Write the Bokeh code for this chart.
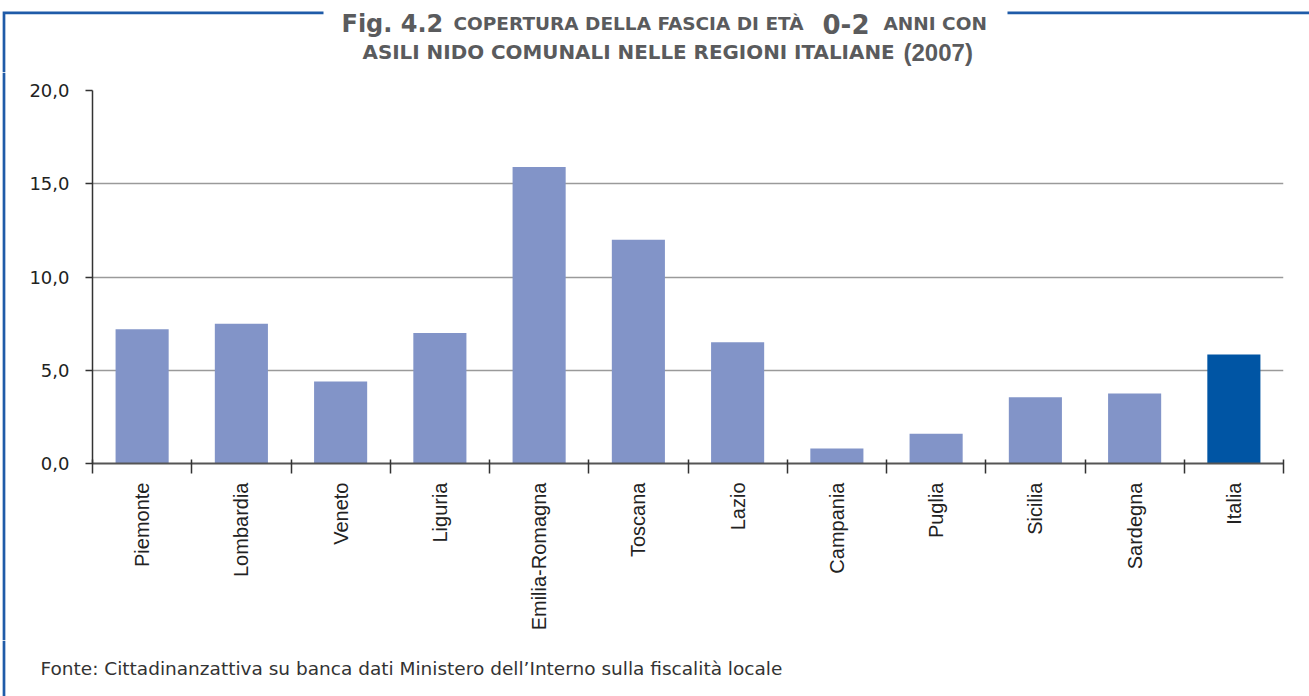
import math
from bokeh.plotting import figure
from bokeh.layouts import column, row
from bokeh.models import ColumnDataSource, Range1d, FixedTicker, CustomJSTickFormatter
from bokeh.core.properties import value
from bokeh.embed import file_html
from bokeh.resources import INLINE

# ---- data ----
regions = ["Piemonte", "Lombardia", "Veneto", "Liguria", "Emilia-Romagna", "Toscana",
           "Lazio", "Campania", "Puglia", "Sicilia", "Sardegna", "Italia"]
coverage = [7.2, 7.5, 4.4, 7.0, 15.9, 12.0, 6.5, 0.8, 1.6, 3.55, 3.75, 5.85]
y_ticks = [0, 5, 10, 15, 20]

title_line1 = ["Fig. 4.2", "COPERTURA DELLA FASCIA DI ETÀ", "0-2", "ANNI CON"]
title_line2 = ["ASILI NIDO COMUNALI NELLE REGIONI ITALIANE", "(2007)"]
source_text = "Fonte: Cittadinanzattiva su banca dati Ministero dell\u2019Interno sulla fiscalità locale"

LIGHT = "#8294C8"
DARK = "#0055A4"
BLUE_FRAME = "#1F5BA8"
TITLE_COL = "#5A5B5D"
FRAME_X = 3.5
FRAME_W = 2.7

W, H = 1309, 696
TITLE_H = 72
SOURCE_H = 56
MAIN_H = H - TITLE_H - SOURCE_H
STRIP_W = 8


def blank_fig(width, height, ymax):
    f = figure(width=width, height=height, output_backend="svg", toolbar_location=None,
               x_range=Range1d(0, width), y_range=Range1d(ymax, 0),
               min_border=0, min_border_left=0, min_border_right=0,
               min_border_top=0, min_border_bottom=0)
    f.axis.visible = False
    f.grid.visible = False
    f.outline_line_color = None
    f.background_fill_color = "white"
    f.border_fill_color = "white"
    f.frame_align = False
    return f


# ---- title panel ----
tf = blank_fig(W, TITLE_H, TITLE_H)
tf.line(x=[FRAME_X, FRAME_X, 323], y=[TITLE_H, 12.3, 12.3], line_color=BLUE_FRAME,
        line_width=FRAME_W, line_join="miter")
tf.line(x=[1007, W], y=[12.3, 12.3], line_color=BLUE_FRAME, line_width=FRAME_W)
tsrc = ColumnDataSource(dict(
    x=[341, 453, 822, 883, 362],
    y=[23, 23, 23, 23, 52],
    text=title_line1 + title_line2[:1],
    size=["24px", "18.5px", "26px", "18.5px", "19.9px"],
))
tf.text(x="x", y="y", text="text", source=tsrc, text_font=value("DejaVu Sans"),
        text_font_style="bold", text_font_size="size", text_color=TITLE_COL,
        text_align="left", text_baseline="alphabetic")
tf.text(x=[903], y=[52], text=title_line2[1:], text_font=value("Liberation Sans"),
        text_font_style="bold", text_font_size="24px", text_color=TITLE_COL,
        text_align="left", text_baseline="alphabetic")

# ---- left strip ----
sf = blank_fig(STRIP_W, MAIN_H, MAIN_H)
sf.line(x=[FRAME_X, FRAME_X], y=[0, MAIN_H], line_color=BLUE_FRAME, line_width=FRAME_W)

# ---- main chart ----
n = len(regions)
src = ColumnDataSource(dict(
    x=[i + 0.5 for i in range(n)],
    top=coverage,
    color=[DARK if r == "Italia" else LIGHT for r in regions],
))

p = figure(width=W - STRIP_W, height=MAIN_H, output_backend="svg", toolbar_location=None,
           x_range=Range1d(0, n), y_range=Range1d(0, 20),
           min_border_left=92 - STRIP_W, min_border_right=W - 1283,
           min_border_top=90 - TITLE_H, min_border_bottom=MAIN_H - (463 - TITLE_H))
p.outline_line_color = None
p.background_fill_color = "white"
p.border_fill_color = "white"
p.frame_align = False

p.vbar(x="x", top="top", width=0.535, color="color", line_color=None, source=src)

p.xgrid.visible = False
p.ygrid.ticker = FixedTicker(ticks=y_ticks)
p.ygrid.grid_line_color = "#9a9a9a"
p.ygrid.grid_line_width = 1.3

ya = p.yaxis[0]
ya.ticker = FixedTicker(ticks=y_ticks)
ya.formatter = CustomJSTickFormatter(code="return tick.toFixed(1).replace('.', ',');")
ya.axis_line_color = "#333333"
ya.axis_line_width = 1.5
ya.major_tick_line_color = "#333333"
ya.major_tick_line_width = 1.5
ya.major_tick_out = 7
ya.major_tick_in = 0
ya.minor_tick_line_color = None
ya.major_label_standoff = 16
ya.major_label_text_font = "DejaVu Sans"
ya.major_label_text_font_size = "18px"
ya.major_label_text_color = "#222222"

xa = p.xaxis[0]
xa.ticker = FixedTicker(ticks=[i + 0.5 for i in range(n)], minor_ticks=list(range(n + 1)))
xa.formatter = CustomJSTickFormatter(args=dict(names=regions),
                                     code="return names[Math.floor(tick)];")
xa.axis_line_color = "#555555"
xa.axis_line_width = 2
xa.major_tick_line_color = None
xa.major_tick_out = 10
xa.major_tick_in = 0
xa.minor_tick_line_color = "#333333"
xa.minor_tick_line_width = 1.5
xa.minor_tick_out = 10
xa.minor_tick_in = 4
xa.major_label_orientation = math.pi / 2
xa.major_label_standoff = 9
xa.major_label_text_font = "Liberation Sans"
xa.major_label_text_font_size = "20px"
xa.major_label_text_color = "#222222"

# ---- source panel ----
bf = blank_fig(W, SOURCE_H, SOURCE_H)
bf.line(x=[FRAME_X, FRAME_X], y=[0, SOURCE_H], line_color=BLUE_FRAME, line_width=FRAME_W)
bf.text(x=[40], y=[28], text=[source_text], text_font=value("DejaVu Sans"),
        text_font_size="18.5px", text_color="#333333", text_align="left",
        text_baseline="alphabetic")

layout = column(tf, row(sf, p, spacing=0), bf, spacing=0)

open("out.html", "w").write(file_html(layout, INLINE))
